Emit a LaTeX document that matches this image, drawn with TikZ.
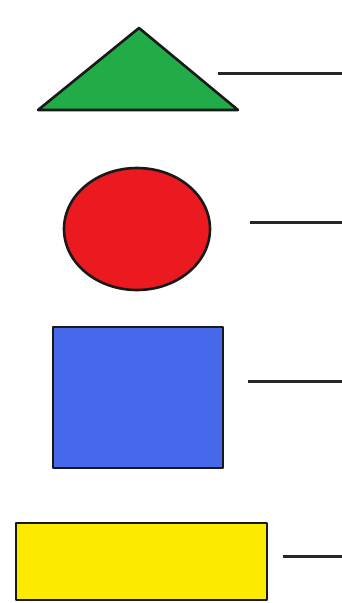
\documentclass[tikz,border=0pt]{standalone}
\usetikzlibrary{shapes.geometric}
\definecolor{trigreen}{RGB}{34,172,72}
\definecolor{ovalred}{RGB}{234,26,32}
\definecolor{sqblue}{RGB}{70,104,234}
\definecolor{boxyellow}{RGB}{252,234,0}
\begin{document}
\begin{tikzpicture}[x=1pt,y=-1pt,line width=2.6pt,
  shapeline/.style={draw=black!90,line join=round},
  pointer/.style={draw=black!85,line width=3pt}]
\useasboundingbox (0,0) rectangle (341,603);
\fill[white] (0,0) rectangle (341,603);
\filldraw[shapeline,fill=trigreen] (139,28) -- (238,110) -- (38,110) -- cycle;
\node[shapeline,fill=ovalred,ellipse,minimum width=146pt,minimum height=122pt,inner sep=0pt] (oval) at (137,229) {};
\node[shapeline,fill=sqblue,rectangle,minimum width=170pt,minimum height=141pt,inner sep=0pt] (square) at (138,397.5) {};
\node[shapeline,fill=boxyellow,rectangle,minimum width=251pt,minimum height=77pt,inner sep=0pt] (box) at (141.5,561.5) {};
\coordinate (t1) at (218,73);  \coordinate (t2) at (342,73);
\coordinate (o1) at (250,222); \coordinate (o2) at (342,222);
\coordinate (s1) at (248,381); \coordinate (s2) at (342,381);
\coordinate (b1) at (283,556); \coordinate (b2) at (342,556);
\draw[pointer] (t1) -- (t2);
\draw[pointer] (o1) -- (o2);
\draw[pointer] (s1) -- (s2);
\draw[pointer] (b1) -- (b2);
\end{tikzpicture}
\end{document}
